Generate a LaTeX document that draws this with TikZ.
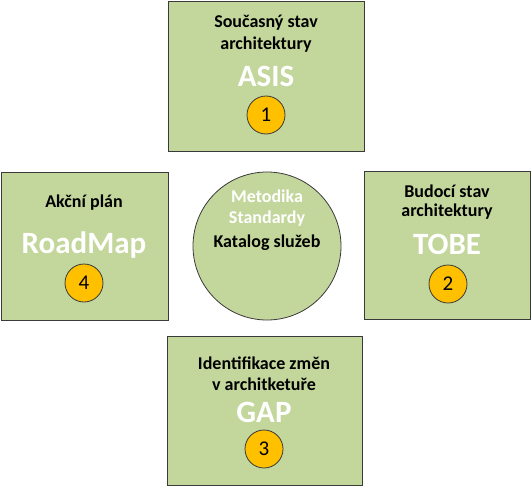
\documentclass[tikz,border=0pt]{standalone}
\usepackage{fontspec}
\setmainfont{Carlito}
\definecolor{boxgreen}{HTML}{C3D69B}
\definecolor{numgold}{HTML}{FFC000}
\definecolor{edgegray}{HTML}{3A3A3A}
\tikzset{
  panel/.style={draw=edgegray, line width=1pt, fill=boxgreen},
  hub/.style={circle, draw=edgegray, line width=0.8pt, fill=boxgreen, minimum size=148pt, inner sep=0pt},
  small/.style={font=\fontsize{18}{20}\selectfont\bfseries, text=black, inner sep=0pt},
  big/.style={font=\fontsize{31}{34}\selectfont\bfseries, text=white, inner sep=0pt},
  hubwhite/.style={font=\fontsize{18}{20}\selectfont\bfseries, text=white, inner sep=0pt},
  num/.style={circle, draw=edgegray, line width=0.8pt, fill=numgold, minimum size=38pt, inner sep=0pt, font=\fontsize{21}{22}\selectfont},
}
\begin{document}
\begin{tikzpicture}[x=1pt, y=-1pt]
\useasboundingbox (0,0) rectangle (532,487);
% boxes
\draw[panel] (168,2) rectangle (364,151);
\draw[panel] (1,172) rectangle (168,320);
\draw[panel] (364,171) rectangle (530,319);
\draw[panel] (167,336) rectangle (362,485);
% hub
\node[hub] (hub) at (267,246) {};
\node[hubwhite] (m1) at (267,196) {Metodika};
\node[hubwhite] (m2) at (267,219) {Standardy};
\node[small] (m3) at (267,243) {Katalog služeb};
% top
\node[small] (t1) at (266,23) {Současný stav};
\node[small] (t2) at (266,45) {architektury};
\node[big] (t3) at (266,76) {ASIS};
\node[num] (n1) at (266,115) {1};
% right
\node[small] (r1) at (447,191) {Budocí stav};
\node[small] (r2) at (447,212) {architektury};
\node[big] (r3) at (447,244) {TOBE};
\node[num] (n2) at (448,284) {2};
% bottom
\node[small] (b1) at (264,363) {Identifikace změn};
\node[small] (b2) at (264,384) {v architketuře};
\node[big] (b3) at (264,412) {GAP};
\node[num] (n3) at (264,449) {3};
% left
\node[small] (l1) at (84,203) {Akční plán};
\node[big] (l2) at (84,245) {RoadMap};
\node[num] (n4) at (84,283) {4};
\end{tikzpicture}
\end{document}
